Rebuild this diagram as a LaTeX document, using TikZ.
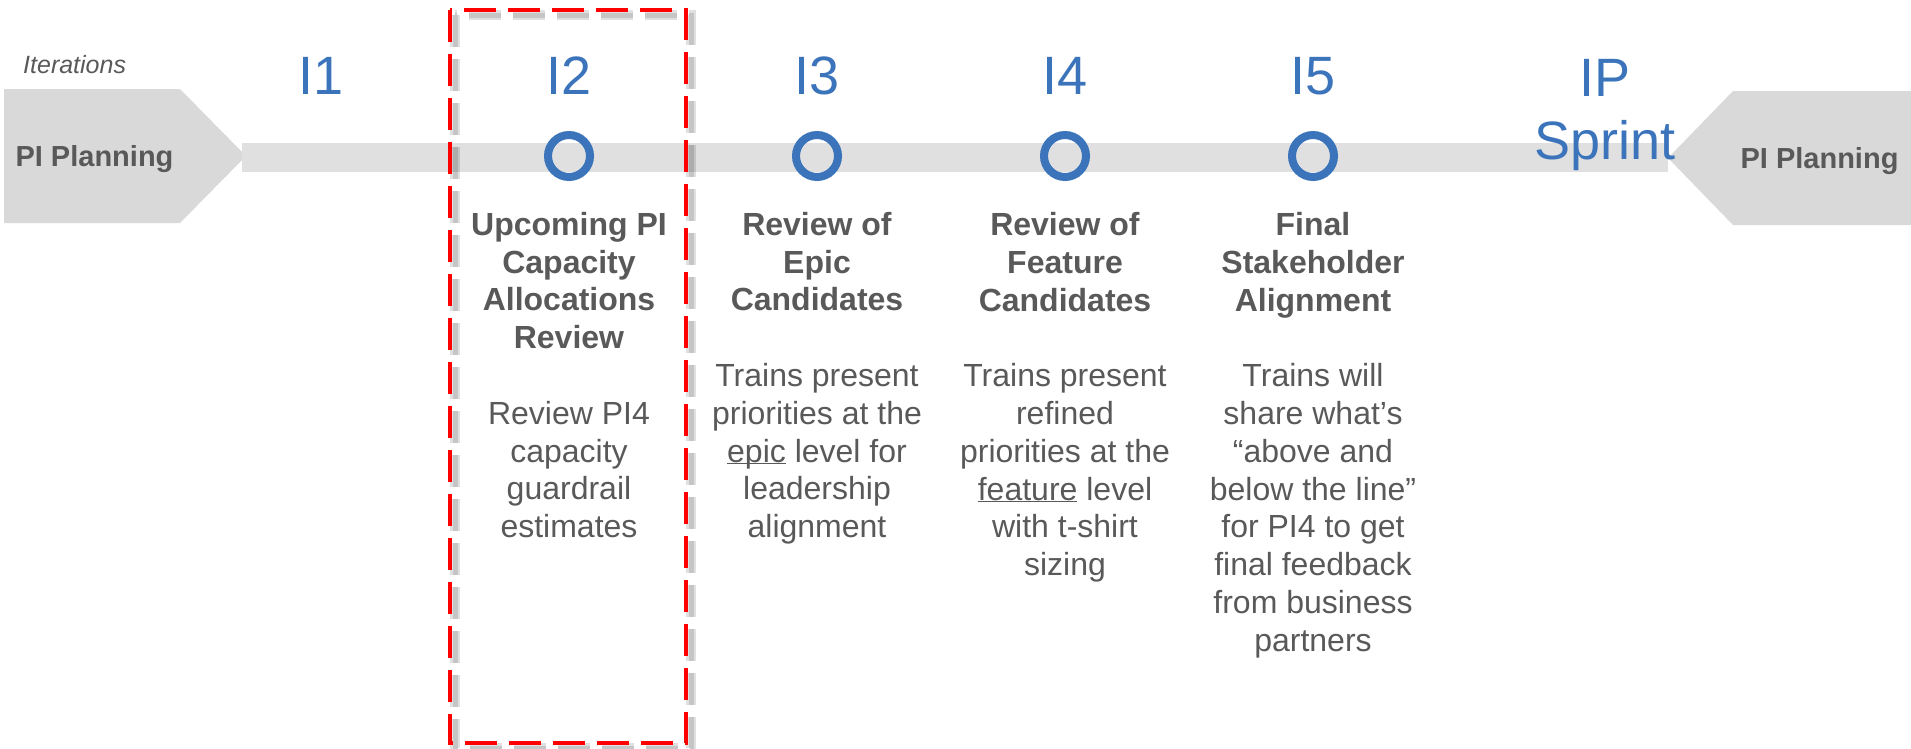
\documentclass[tikz,border=0pt]{standalone}
\usepackage{fontspec}
\setmainfont{Liberation Sans}
\usetikzlibrary{positioning}

\definecolor{piblue}{RGB}{59,116,187}
\definecolor{pigray}{RGB}{89,89,89}
\definecolor{barfill}{RGB}{224,224,224}
\definecolor{planfill}{RGB}{217,217,217}

\newcommand{\keyword}[1]{\underline{\smash{#1}}}

\tikzset{
  iter/.style={text=piblue, inner sep=0pt, font=\fontsize{54}{61}\selectfont},
  ring/.style={circle, draw=piblue, line width=8pt, minimum size=42pt, inner sep=0pt},
  column/.style={text=pigray, inner sep=0pt, align=center, anchor=north,
                 font=\fontsize{32}{37.8}\selectfont},
  planlabel/.style={text=pigray, inner sep=0pt, anchor=base,
                    font=\fontsize{29}{34}\selectfont\bfseries},
  timeline/.style={draw=barfill, line width=29pt},
  focusbox/.style={draw=red, line width=4pt, dash pattern=on 32pt off 12pt},
  focusshadow/.style={draw=black, opacity=.12, line width=#1, dash pattern=on 32pt off 12pt},
}

\begin{document}
\begin{tikzpicture}[x=1pt, y=-1pt]
\useasboundingbox (0,0) rectangle (1911,748);
% PI planning arrows at both ends
\fill[planfill] (4,89) -- (180,89) -- (246,156) -- (180,223) -- (4,223) -- cycle;
\fill[planfill] (1911,91) -- (1733,91) -- (1668,158) -- (1733,225) -- (1911,225) -- cycle;
\node[planlabel] (planL) at (94.5,166) {PI Planning};
\node[planlabel] (planR) at (1819.5,168) {PI Planning};
\node[text=pigray, inner sep=0pt, anchor=base west,
      font=\fontsize{25}{30}\selectfont\itshape] (iters) at (23,73) {Iterations};
% Timeline bar
\coordinate (barL) at (242,157.5);
\coordinate (barR) at (1668,157.5);
\draw[timeline] (barL) -- (barR);
% Iteration labels
\node[iter, anchor=base] (i1) at (321,94) {I1};
\node[iter, anchor=base] (i2) at (569,94) {I2};
\node[iter, anchor=base] (i3) at (817,94) {I3};
\node[iter, anchor=base] (i4) at (1065,94) {I4};
\node[iter, anchor=base] (i5) at (1313,94) {I5};
\node[iter, anchor=north, align=center] (ip) at (1605,59) {IP\\[2pt]Sprint};
% Milestones
\node[ring] (m2) at (569,156) {};
\node[ring] (m3) at (817,156) {};
\node[ring] (m4) at (1065,156) {};
\node[ring] (m5) at (1313,156) {};
\node[column, below=31pt of m2] (c2)
  {\textbf{Upcoming PI}\\\textbf{Capacity}\\\textbf{Allocations}\\\textbf{Review}\\[37.8pt]
   Review PI4\\capacity\\guardrail\\estimates};
\node[column, below=31pt of m3] (c3)
  {\textbf{Review of}\\\textbf{Epic}\\\textbf{Candidates}\\[37.8pt]
   Trains present\\priorities at the\\\keyword{epic} level for\\leadership\\alignment};
\node[column, below=31pt of m4] (c4)
  {\textbf{Review of}\\\textbf{Feature}\\\textbf{Candidates}\\[37.8pt]
   Trains present\\refined\\priorities at the\\\keyword{feature} level\\with t-shirt\\sizing};
\node[column, below=31pt of m5] (c5)
  {\textbf{Final}\\\textbf{Stakeholder}\\\textbf{Alignment}\\[37.8pt]
   Trains will\\share what’s\\“above and\\below the line”\\for PI4 to get\\final feedback\\from business\\partners};
% Highlight around the current iteration
\draw[focusshadow=10pt] (455,15) rectangle (691,748);
\draw[focusshadow=5pt] (455,15) rectangle (691,748);
\draw[focusbox] (450,10) rectangle (686,743);
\end{tikzpicture}
\end{document}
